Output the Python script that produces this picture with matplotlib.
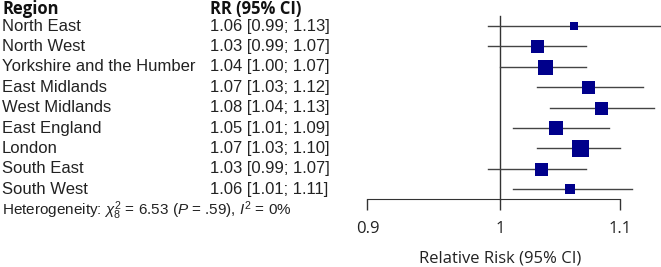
import matplotlib
matplotlib.use("Agg")
from matplotlib import pyplot as plt
from matplotlib.transforms import blended_transform_factory

plt.rcParams["font.family"] = ["Liberation Sans", "DejaVu Sans"]
plt.rcParams["mathtext.fontset"] = "custom"
plt.rcParams["mathtext.rm"] = "Liberation Sans"
plt.rcParams["mathtext.it"] = "Liberation Sans:italic"

# data
regions = ["North East", "North West", "Yorkshire and the Humber", "East Midlands",
           "West Midlands", "East England", "London", "South East", "South West"]
rr_labels = ["1.06 [0.99; 1.13]", "1.03 [0.99; 1.07]", "1.04 [1.00; 1.07]",
             "1.07 [1.03; 1.12]", "1.08 [1.04; 1.13]", "1.05 [1.01; 1.09]",
             "1.07 [1.03; 1.10]", "1.03 [0.99; 1.07]", "1.06 [1.01; 1.11]"]
rr = [1.060, 1.030, 1.036, 1.072, 1.083, 1.045, 1.065, 1.033, 1.057]
ci_low = [0.99, 0.99, 1.00, 1.03, 1.04, 1.01, 1.03, 0.99, 1.01]
ci_high = [1.136, 1.07, 1.07, 1.12, 1.13, 1.09, 1.10, 1.07, 1.11]
square_px = [8, 13, 15, 13, 13, 14, 17, 13, 10]  # marker side in pixels (weights)
ticks = [0.9, 1.0, 1.1]
tick_labels = ["0.9", "1", "1.1"]

fig = plt.figure(figsize=(6.61, 2.67), dpi=100)
ax = fig.add_axes([0, (267 - 199) / 267, 1, 199 / 267])
ax.set_xscale("log")
ax.set_xlim(0.6725, 1.136)
ax.set_ylim(8.48, -1.275)

for s in ["top", "right", "left"]:
    ax.spines[s].set_visible(False)
ax.spines["bottom"].set_bounds(0.9, 1.1)
ax.spines["bottom"].set_color("#333333")
ax.set_yticks([])
ax.minorticks_off()
ax.set_xticks(ticks)
ax.set_xticklabels(tick_labels, family=["Open Sans", "DejaVu Sans"])
ax.tick_params(axis="x", which="minor", bottom=False)
ax.tick_params(axis="x", length=8, width=1, color="#333333", pad=8,
               labelsize=12, labelcolor="#222222")
ax.set_xlabel("Relative Risk (95% CI)", fontsize=12, color="#222222",
              family=["Open Sans", "DejaVu Sans"])
ax.xaxis.set_label_coords(500 / 661, -0.26)

# reference line at 1
ax.plot([1, 1], [-0.49, 8.48], color="#333333", lw=1, clip_on=False)

for i in range(len(regions)):
    ax.plot([ci_low[i], ci_high[i]], [i, i], color="#444444", lw=1, zorder=2)
    ax.plot(rr[i], i, marker="s", markersize=square_px[i] * 0.72, color="#00008B",
            markeredgewidth=0, zorder=3)

tr = blended_transform_factory(fig.transFigure, ax.transData)
x_name = 2 / 661
x_rr = 210 / 661
ax.text(x_name, -0.82, "Region", transform=tr, fontsize=12, fontweight="bold",
        va="center", ha="left", family=["Open Sans", "DejaVu Sans"], color="#111111")
ax.text(x_rr, -0.82, "RR (95% CI)", transform=tr, fontsize=12, fontweight="bold",
        va="center", ha="left", family=["Open Sans", "DejaVu Sans"], color="#111111")
for i in range(len(regions)):
    ax.text(x_name, i, regions[i], transform=tr, fontsize=12, va="center", ha="left",
            color="#222222", clip_on=False)
    ax.text(x_rr, i, rr_labels[i], transform=tr, fontsize=12, va="center", ha="left",
            color="#222222", clip_on=False)

ax.text(x_name, 9.05, r"Heterogeneity: $\chi^2_8$ = 6.53 ($P$ = .59), $I^2$ = 0%",
        transform=tr, fontsize=11, va="center", ha="left", color="#222222", clip_on=False)

fig.savefig("out.png", dpi=100)
